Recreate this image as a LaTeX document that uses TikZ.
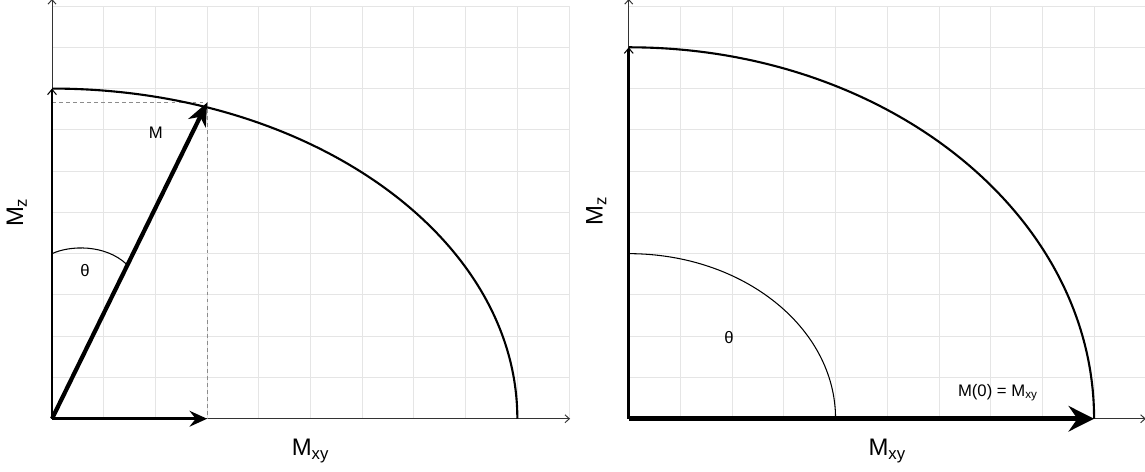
\documentclass[tikz,border=0pt]{standalone}
\usepackage{fontspec}
\setmainfont{Liberation Sans}
\usetikzlibrary{arrows.meta}

\begin{document}
\begin{tikzpicture}[x=1.034cm, y=0.8254cm,
    gridline/.style={draw=black!10, line width=0.5pt, xstep=1.034cm, ystep=0.8254cm},
    axis/.style={draw=black!80, line width=0.55pt, -{Straight Barb[length=2.5pt,width=4.5pt]}},
    comp/.style={line width=1.6pt, -{Straight Barb[length=3pt,width=5pt,line width=0.6pt]}},
    vec/.style={line width=2.4pt, -{Stealth[length=13pt,width=11pt,inset=4pt]}},
    flat/.style={line width=1.7pt, -{Stealth[length=10pt,width=9pt,inset=3.5pt]}},
    flatbig/.style={line width=2.6pt, -{Stealth[length=14.5pt,width=14.5pt,inset=5pt]}},
    locus/.style={line width=1.2pt},
    anglemark/.style={line width=0.6pt},
    helper/.style={draw=black!45, dash pattern=on 2pt off 2pt, line width=0.5pt},
    lbl/.style={font=\fontsize{9.5}{11}\selectfont, inner sep=1pt},
    axlabel/.style={font=\fontsize{13.6}{16}\selectfont, inner sep=1pt}]
  \useasboundingbox (-1.006,-1.267) rectangle (21.14,10.146);

  % left: tilted magnetisation
  \begin{scope}
    \coordinate (O1) at (0,0);
    \coordinate (Y1) at (0,10.17);
    \coordinate (X1) at (10.02,0);
    \coordinate (Z1) at (0,8);
    \coordinate (Mtip) at (3,7.66);
    \coordinate (Mh) at (0,7.66);
    \coordinate (Mx) at (3,0);
    \coordinate (T1) at (0,4);
    \coordinate (T1e) at (1.445,3.741);

    \draw[gridline] (0,0) grid (10,10);
    \draw[axis] (O1) -- (Y1);
    \draw[axis] (O1) -- (X1);
    \draw[helper] (Mh) -- (Mtip) -- (Mx);
    \draw[locus] (Z1) arc[start angle=90, end angle=0, x radius=9, y radius=8];
    \draw[comp] (O1) -- (Z1);
    \draw[flat] (O1) -- (Mx);
    \draw[vec] (O1) -- (Mtip);
    \draw[anglemark] (T1) .. controls (0.348,4.203) and (1.025,4.233) .. (T1e);

    \node[lbl] (theta1) at (0.638,3.586) {θ};
    \node[lbl] (mlab) at (2.01,6.93) {M};
    \node[axlabel, rotate=90] (mz1) at (-0.68,5.0) {M\textsubscript{z}};
    \node[axlabel] (mxy1) at (5.0,-0.78) {M\textsubscript{xy}};
  \end{scope}

  % right: flipped into the plane
  \begin{scope}[shift={(11.155,0)}]
    \coordinate (O2) at (0,0);
    \coordinate (Y2) at (0,10.17);
    \coordinate (X2) at (10.0,0);
    \coordinate (Z2) at (0,9);
    \coordinate (M0) at (9,0);
    \coordinate (T2) at (0,4);

    \draw[gridline] (0,0) grid (10,10);
    \draw[axis] (O2) -- (Y2);
    \draw[axis] (O2) -- (X2);
    \draw[locus] (Z2) arc[start angle=90, end angle=0, x radius=9, y radius=9];
    \draw[anglemark] (T2) arc[start angle=90, end angle=0, x radius=4, y radius=4];
    \draw[comp] (O2) -- (Z2);
    \draw[flatbig] (O2) -- (M0);

    \node[lbl] (theta2) at (1.94,1.97) {θ};
    \node[lbl] (m0lab) at (7.14,0.64) {M(0) = M\textsubscript{xy}};
    \node[axlabel, rotate=90] (mz2) at (-0.63,5.03) {M\textsubscript{z}};
    \node[axlabel] (mxy2) at (5.0,-0.78) {M\textsubscript{xy}};
  \end{scope}
\end{tikzpicture}
\end{document}
